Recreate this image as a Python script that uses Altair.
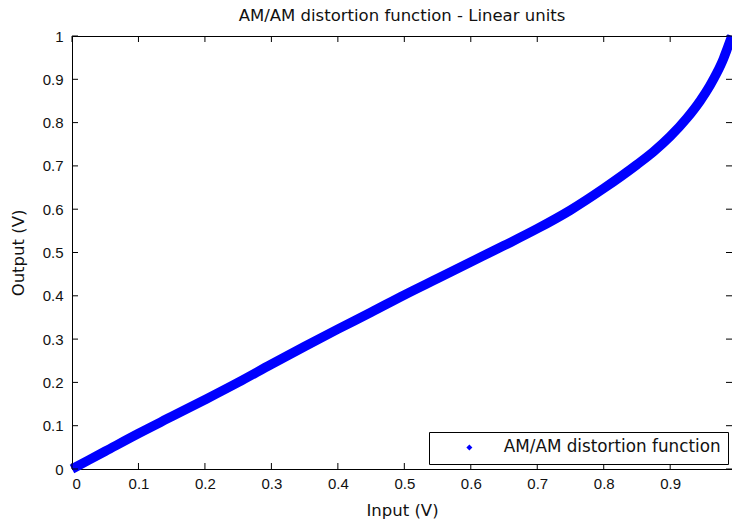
import altair as alt
import pandas as pd

# Data
input_v = [0, 0.05, 0.1, 0.15, 0.2, 0.25, 0.3, 0.35, 0.4, 0.45, 0.5, 0.55, 0.6, 0.65,
           0.7, 0.75, 0.8, 0.85, 0.875, 0.9, 0.925, 0.945, 0.96, 0.97, 0.98, 0.985, 0.99, 0.993]
output_v = [0, 0.041, 0.082, 0.121, 0.160, 0.200, 0.242, 0.283, 0.323, 0.362, 0.402, 0.440,
            0.478, 0.516, 0.555, 0.598, 0.648, 0.703, 0.733, 0.768, 0.810, 0.850, 0.886,
            0.914, 0.947, 0.967, 0.988, 1.0]
series_name = "AM/AM distortion function"
chart_title = "AM/AM distortion function - Linear units"
x_ticks = [0, 0.1, 0.2, 0.3, 0.4, 0.5, 0.6, 0.7, 0.8, 0.9]
y_ticks = [0, 0.1, 0.2, 0.3, 0.4, 0.5, 0.6, 0.7, 0.8, 0.9, 1]

W, H = 660, 433
TICK = 6
TXT = "#111111"
TICK_FONT = "Liberation Sans"
TEXT_FONT = "DejaVu Sans"

df = pd.DataFrame({"input": input_v, "output": output_v, "series": series_name})
xt = pd.DataFrame({"t": x_ticks})
yt = pd.DataFrame({"t": y_ticks})
tt = pd.DataFrame({"title": [chart_title]})

xscale = alt.Scale(domain=[0, 0.993], nice=False, zero=False)
yscale = alt.Scale(domain=[0, 1], nice=False, zero=False)

x_axis = alt.Axis(values=x_ticks, format="~g", ticks=False, grid=False, domainColor="black",
                  labelFont=TICK_FONT, labelFontSize=15, labelColor=TXT, labelPadding=7,
                  title="Input (V)", titleFont=TEXT_FONT, titleFontSize=16.5,
                  titleFontWeight="normal", titleColor=TXT, titleY=41,
                  titleBaseline="middle")
y_axis = alt.Axis(values=y_ticks, format="~g", ticks=False, grid=False, domainColor="black",
                  labelFont=TICK_FONT, labelFontSize=15, labelColor=TXT, labelPadding=9,
                  title="Output (V)", titleFont=TEXT_FONT, titleFontSize=16.5,
                  titleFontWeight="normal", titleColor=TXT, titleX=-54, titleY=H / 2,
                  titleAngle=270, titleAlign="center", titleBaseline="middle")

curve = alt.Chart(df).mark_line(strokeWidth=9.5, strokeCap="butt", interpolate="monotone").encode(
    x=alt.X("input:Q", scale=xscale, axis=x_axis),
    y=alt.Y("output:Q", scale=yscale, axis=y_axis),
    color=alt.Color("series:N", scale=alt.Scale(range=["#0000ff"]),
                    legend=alt.Legend(title=None, orient="none", legendX=357, legendY=396,
                                      symbolType="diamond", symbolSize=36,
                                      symbolFillColor="#0000ff", symbolStrokeWidth=0,
                                      symbolOffset=25, labelOffset=26,
                                      labelFont=TEXT_FONT, labelFontSize=16.8,
                                      labelColor=TXT, labelLimit=400,
                                      padding=7, strokeColor="black", fillColor="white",
                                      cornerRadius=0)),
)

title_text = alt.Chart(tt).mark_text(font=TEXT_FONT, fontSize=16.5, color=TXT,
                                     align="center", baseline="alphabetic").encode(
    text="title:N", x=alt.value(W / 2), y=alt.value(-15))

bottom_ticks = alt.Chart(xt).mark_rule(color="black", strokeWidth=1).encode(
    x=alt.X("t:Q", scale=xscale), y=alt.value(H), y2=alt.value(H - TICK))
top_ticks = alt.Chart(xt).mark_rule(color="black", strokeWidth=1).encode(
    x=alt.X("t:Q", scale=xscale), y=alt.value(0), y2=alt.value(TICK))
left_ticks = alt.Chart(yt).mark_rule(color="black", strokeWidth=1).encode(
    y=alt.Y("t:Q", scale=yscale), x=alt.value(0), x2=alt.value(TICK))
right_ticks = alt.Chart(yt).mark_rule(color="black", strokeWidth=1).encode(
    y=alt.Y("t:Q", scale=yscale), x=alt.value(W), x2=alt.value(W - TICK))

chart = alt.layer(curve, bottom_ticks, top_ticks, left_ticks, right_ticks, title_text).properties(
    width=W, height=H,
    autosize=alt.AutoSizeParams(type="none"),
    padding={"left": 72, "top": 36, "right": 0, "bottom": 52},
    background="white",
).configure_view(stroke="black", strokeWidth=1)

chart.save("out.html", embed_options={"renderer": "svg", "actions": False})
